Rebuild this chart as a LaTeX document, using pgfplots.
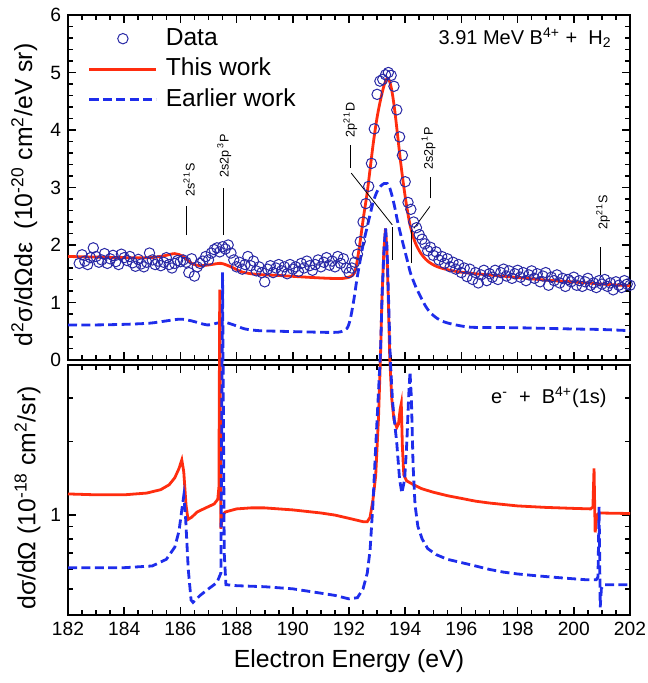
\documentclass[border=0pt]{standalone}
\usepackage{fontspec}
\setmainfont{Liberation Sans}
\usepackage{pgfplots}
\pgfplotsset{compat=1.18}
\definecolor{myred}{RGB}{255,45,15}
\definecolor{myblue}{RGB}{30,45,235}
\definecolor{mynavy}{RGB}{40,40,165}
\pgfplotsset{
  myframe/.style={
    scale only axis, width=281pt,
    xmin=182, xmax=202,
    xtick={182,184,...,202}, minor x tick num=3,
    tick align=inside,
    axis line style={line width=1.1pt},
    every tick/.style={black, line width=0.8pt},
    major tick length=4pt, minor tick length=2.5pt,
    tick label style={font=\fontsize{9.6}{11}\selectfont},
    /pgf/number format/assume math mode=true,
    label style={font=\fontsize{12.4}{14}\selectfont},
  }
}
\begin{document}
\begin{tikzpicture}
%%%%%%%%%%%%%%%% TOP PANEL
\begin{axis}[myframe,
  at={(34pt,161.5pt)}, anchor=south west, height=172.5pt,
  ymin=0, ymax=6, ytick={0,...,6}, minor y tick num=4,
  xticklabels={},
  ylabel={d\textsuperscript{2}σ/dΩdε\ \ (10\textsuperscript{-20} cm\textsuperscript{2}/eV sr)},
  ylabel style={at={(axis description cs:-0.078,0.478)}, anchor=center},
  legend image code/.code={\draw[mark repeat=2,mark phase=2,#1] plot coordinates {(0pt,0pt) (16.75pt,0pt) (33.5pt,0pt)};},
  legend cell align=left,
  legend style={at={(0.0356,0.965)}, anchor=north west, draw=none, fill=none,
    inner sep=0pt, outer sep=0pt, font=\fontsize{12.3}{14}\selectfont, row sep=3.7pt,
    nodes={inner sep=0pt, text height=9pt, text depth=2.6pt, anchor=west},
    /tikz/every odd column/.append style={column sep=4pt}},
]
\addplot[only marks, mark=o, mark size=2.6pt, mynavy, mark options={line width=0.5pt}] coordinates {
(182.4,1.68)(182.5,1.83)(182.6,1.72)(182.7,1.66)(182.8,1.78)(182.9,1.95)(183.0,1.80)(183.1,1.70)(183.2,1.74)(183.3,1.85)
(183.4,1.68)(183.5,1.76)(183.6,1.82)(183.7,1.71)(183.8,1.66)(183.9,1.84)(184.0,1.78)(184.1,1.73)(184.2,1.80)(184.3,1.69)
(184.4,1.63)(184.5,1.75)(184.6,1.67)(184.7,1.62)(184.8,1.70)(184.9,1.86)(185.0,1.74)(185.1,1.66)(185.2,1.72)(185.3,1.64)
(185.4,1.70)(185.5,1.78)(185.6,1.66)(185.7,1.60)(185.8,1.68)(185.9,1.73)(186.0,1.71)(186.1,1.74)(186.2,1.70)(186.3,1.52)
(186.4,1.76)(186.5,1.46)(186.6,1.62)(186.7,1.68)(186.8,1.72)(186.9,1.80)(187.0,1.74)(187.1,1.86)(187.2,1.92)(187.3,1.95)
(187.4,1.88)(187.5,1.97)(187.6,1.93)(187.7,2.00)(187.8,1.86)(187.9,1.74)(188.0,1.62)(188.1,1.70)(188.2,1.58)(188.3,1.66)
(188.4,1.80)(188.5,1.64)(188.6,1.72)(188.7,1.55)(188.8,1.62)(188.9,1.52)(189.0,1.36)(189.1,1.58)(189.2,1.64)(189.3,1.52)
(189.4,1.60)(189.5,1.66)(189.6,1.55)(189.7,1.62)(189.8,1.50)(189.9,1.66)(190.0,1.58)(190.1,1.62)(190.2,1.54)(190.3,1.68)
(190.4,1.60)(190.5,1.72)(190.6,1.64)(190.7,1.56)(190.8,1.66)(190.9,1.74)(191.0,1.62)(191.1,1.70)(191.2,1.78)(191.3,1.65)
(191.4,1.72)(191.5,1.62)(191.6,1.80)(191.7,1.68)(191.8,1.76)(191.9,1.60)(192.0,1.52)(192.1,1.60)(192.2,1.70)(192.3,1.84)
(192.4,2.06)(192.5,2.40)(192.6,2.72)(192.7,3.02)(192.8,3.42)(192.9,4.02)(193.0,4.62)(193.1,4.85)(193.2,4.88)(193.3,4.96)
(193.4,5.00)(193.5,4.95)(193.6,4.76)(193.7,4.35)(193.8,3.88)(193.9,3.56)(194.0,3.10)(194.1,2.74)(194.2,2.62)(194.3,2.40)
(194.4,2.30)(194.5,2.18)(194.6,2.10)(194.7,2.02)(194.8,1.90)(194.9,1.96)(195.0,1.82)(195.1,1.88)(195.2,1.74)(195.3,1.80)
(195.4,1.68)(195.5,1.76)(195.6,1.62)(195.7,1.70)(195.8,1.58)(195.9,1.66)(196.0,1.52)(196.1,1.60)(196.2,1.45)(196.3,1.58)
(196.4,1.40)(196.5,1.52)(196.6,1.34)(196.7,1.48)(196.8,1.56)(196.9,1.38)(197.0,1.50)(197.1,1.44)(197.2,1.56)(197.3,1.40)
(197.4,1.52)(197.5,1.58)(197.6,1.46)(197.7,1.55)(197.8,1.42)(197.9,1.50)(198.0,1.56)(198.1,1.44)(198.2,1.52)(198.3,1.38)
(198.4,1.48)(198.5,1.55)(198.6,1.42)(198.7,1.50)(198.8,1.36)(198.9,1.46)(199.0,1.52)(199.1,1.30)(199.2,1.44)(199.3,1.38)
(199.4,1.48)(199.5,1.34)(199.6,1.42)(199.7,1.28)(199.8,1.40)(199.9,1.36)(200.0,1.44)(200.1,1.30)(200.2,1.38)(200.3,1.28)
(200.4,1.36)(200.5,1.42)(200.6,1.30)(200.7,1.34)(200.8,1.26)(200.9,1.38)(201.0,1.32)(201.1,1.40)(201.2,1.28)(201.3,1.34)
(201.4,1.22)(201.5,1.36)(201.6,1.30)(201.7,1.26)(201.8,1.38)(201.9,1.32)(202.0,1.30)
};
\addlegendentry{Data}
\addplot[myred, line width=1.4pt, smooth] coordinates {
(182,1.80)(183,1.79)(184,1.78)(184.9,1.78)(185.4,1.81)(185.8,1.85)(186.1,1.80)(186.4,1.68)(186.7,1.64)(187.1,1.66)
(187.45,1.68)(187.8,1.62)(188.2,1.53)(188.7,1.49)(189.5,1.47)(190.5,1.44)(191.3,1.42)(191.8,1.42)(192.05,1.45)(192.2,1.52)
(192.3,1.75)(192.4,2.07)(192.52,2.50)(192.65,2.92)(192.77,3.40)(192.88,3.83)(193.0,4.22)(193.12,4.52)(193.25,4.78)(193.36,4.90)
(193.45,4.84)(193.54,4.64)(193.63,4.33)(193.72,3.95)(193.83,3.47)(193.95,3.01)(194.07,2.62)(194.19,2.31)(194.35,2.05)(194.55,1.86)
(194.8,1.72)(195.15,1.62)(195.7,1.55)(196.3,1.51)(197.2,1.47)(198.1,1.43)(199.0,1.39)(199.9,1.36)(201,1.32)(202,1.29)
};
\addlegendentry{This work}
\addplot[myblue, line width=1.4pt, dash pattern=on 4.5pt off 2.2pt, smooth] coordinates {
(182,0.61)(183,0.61)(184,0.62)(184.9,0.64)(185.5,0.68)(186.0,0.71)(186.4,0.68)(186.95,0.61)(187.3,0.64)(187.55,0.66)
(187.9,0.61)(188.3,0.54)(188.8,0.51)(189.5,0.50)(190.3,0.49)(191.3,0.48)(191.7,0.49)(191.93,0.55)(192.05,0.72)(192.17,1.04)
(192.28,1.40)(192.4,1.74)(192.52,2.05)(192.65,2.32)(192.77,2.57)(192.88,2.78)(193.0,2.93)(193.12,3.02)(193.25,3.07)(193.36,3.07)
(193.45,2.99)(193.54,2.84)(193.63,2.65)(193.72,2.43)(193.83,2.20)(193.95,1.97)(194.07,1.74)(194.19,1.51)(194.37,1.28)(194.55,1.10)
(194.72,0.94)(194.9,0.82)(195.15,0.72)(195.4,0.66)(195.8,0.61)(196.33,0.57)(197.2,0.565)(198.1,0.56)(199,0.55)(199.9,0.54)
(201,0.53)(202,0.51)
};
\addlegendentry{Earlier work}
% annotations
\begin{scope}[font=\fontsize{6.3}{7}\selectfont]
\node[rotate=90, anchor=west, inner sep=0pt] at (axis cs:186.31,2.83) {2s\textsuperscript{2\,1}S};
\draw[line width=0.4pt] (axis cs:186.23,2.17) -- (axis cs:186.23,2.68);
\node[rotate=90, anchor=west, inner sep=0pt] at (axis cs:187.56,3.17) {2s2p\textsuperscript{\,3}P};
\draw[line width=0.4pt] (axis cs:187.52,2.17) -- (axis cs:187.52,2.99);
\node[rotate=90, anchor=west, inner sep=0pt] at (axis cs:192.05,3.86) {2p\textsuperscript{2\,1}D};
\draw[line width=0.4pt] (axis cs:192.05,3.34) -- (axis cs:192.05,3.74);
\draw[line width=0.4pt] (axis cs:192.08,3.25) -- (axis cs:193.54,2.35);
\draw[line width=0.4pt] (axis cs:193.54,1.74) -- (axis cs:193.54,2.32);
\node[rotate=90, anchor=west, inner sep=0pt] at (axis cs:194.83,3.30) {2s2p\textsuperscript{\,1}P};
\draw[line width=0.4pt] (axis cs:194.88,2.81) -- (axis cs:194.88,3.19);
\draw[line width=0.4pt] (axis cs:194.88,2.67) -- (axis cs:194.31,2.29);
\draw[line width=0.4pt] (axis cs:194.22,1.69) -- (axis cs:194.22,2.26);
\node[rotate=90, anchor=west, inner sep=0pt] at (axis cs:201.04,2.26) {2p\textsuperscript{2\,1}S};
\draw[line width=0.4pt] (axis cs:200.94,1.48) -- (axis cs:200.94,1.97);
\end{scope}
\node[anchor=base east, inner sep=0pt, font=\fontsize{10}{12}\selectfont] at (axis cs:201.36,5.48) {3.91 MeV B\textsuperscript{4+} +\ \ H\textsubscript{2}};
\end{axis}
%%%%%%%%%%%%%%%% BOTTOM PANEL
\begin{axis}[myframe,
  at={(34pt,34pt)}, anchor=south west, height=125pt,
  ymode=log, ymin=0.391, ymax=4.1,
  ytick={1}, yticklabels={1},
  minor ytick={0.5,0.6,0.7,0.8,0.9,2,3},
  xticklabels={182,184,186,188,190,192,194,196,198,200,202},
  xlabel={Electron Energy (eV)},
  ylabel={dσ/dΩ (10\textsuperscript{-18} cm\textsuperscript{2}/sr)},
  ylabel style={at={(axis description cs:-0.072,0.468)}, anchor=center},
  clip=false,
]
\addplot[myred, line width=1.4pt] coordinates {
(182.0,1.22)(183.0,1.21)(184.0,1.21)(184.8,1.23)(185.3,1.27)(185.6,1.33)(185.8,1.42)(185.95,1.55)(186.05,1.68)(186.12,1.50)
(186.2,1.10)(186.27,0.96)(186.4,0.98)(186.6,1.03)(186.9,1.07)(187.2,1.11)(187.33,1.16)(187.37,1.3)(187.40,8.33)(187.44,0.88)
(187.5,1.0)(187.6,1.03)(188.0,1.06)(188.5,1.07)(189.0,1.07)(190.0,1.05)(191.0,1.02)(191.5,1.00)(192.0,0.97)(192.5,0.94)
(192.65,0.94)(192.75,0.98)(192.85,1.15)(192.95,1.45)(193.05,2.5)(193.12,4.4)(193.17,7.5)(193.24,12)(193.3,14.8)(193.35,12)
(193.40,7.5)(193.45,4.4)(193.52,3.0)(193.6,2.45)(193.7,2.28)(193.76,2.35)(193.82,2.7)(193.86,2.85)(193.9,1.9)(193.95,1.46)
(194.05,1.38)(194.3,1.33)(194.6,1.28)(195.0,1.24)(195.5,1.20)(196.0,1.17)(196.5,1.14)(197.0,1.12)(198.0,1.09)(199.0,1.075)
(200.0,1.065)(200.6,1.06)(200.68,1.08)(200.72,1.55)(200.76,0.85)(200.82,1.0)(200.9,1.02)(202,1.015)
};
\addplot[myblue, line width=1.4pt, dash pattern=on 4.5pt off 2.2pt] coordinates {
(182.0,0.61)(184.0,0.61)(185.0,0.62)(185.5,0.66)(185.8,0.74)(185.95,0.86)(186.05,1.05)(186.12,1.20)(186.18,1.0)(186.28,0.6)
(186.38,0.45)(186.45,0.44)(186.7,0.47)(187.0,0.50)(187.3,0.53)(187.44,0.58)(187.50,9.8)(187.56,0.7)(187.62,0.52)(188.0,0.515)
(189.0,0.51)(190.0,0.50)(191.0,0.48)(191.5,0.47)(192.0,0.455)(192.3,0.46)(192.5,0.50)(192.65,0.58)(192.75,0.72)(192.85,1.1)
(192.95,1.9)(193.05,3.2)(193.12,4.6)(193.18,8)(193.25,12.5)(193.3,14.8)(193.35,12.5)(193.41,7.5)(193.47,4.3)(193.55,2.9)
(193.62,2.4)(193.7,1.97)(193.8,1.4)(193.88,1.23)(193.98,1.4)(194.06,2.0)(194.12,3.0)(194.17,3.84)(194.22,3.0)(194.28,1.6)
(194.35,1.1)(194.45,0.9)(194.6,0.80)(194.8,0.73)(195.1,0.69)(195.5,0.66)(196.0,0.64)(196.5,0.62)(197.0,0.60)(197.5,0.585)
(198.0,0.575)(198.7,0.565)(199.5,0.555)(200.4,0.545)(200.8,0.545)(200.86,0.56)(200.9,1.08)(200.94,0.42)(200.98,0.5)(201.05,0.52)
(202.0,0.52)
};
\node[anchor=base east, inner sep=0pt, font=\fontsize{10}{12}\selectfont] at (axis cs:201.18,2.86) {e\textsuperscript{-}\ \ +\ \ B\textsuperscript{4+}(1s)};
\end{axis}
\pgfresetboundingbox
\path[use as bounding box] (0pt,0pt) rectangle (323.5pt,341.5pt);
\end{tikzpicture}
\end{document}
